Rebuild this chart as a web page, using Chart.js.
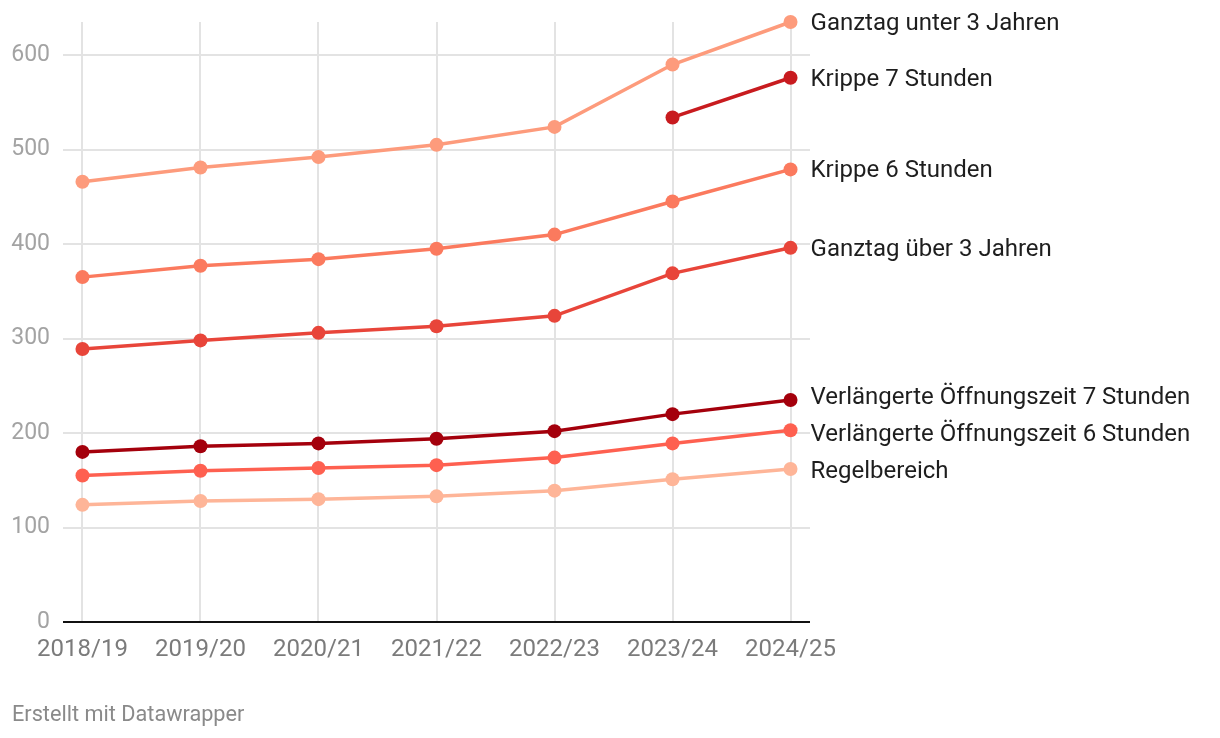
<!DOCTYPE html>
<html lang="de">
<head>
<meta charset="utf-8">
<title>Kita-Beiträge</title>
<script src="https://cdn.jsdelivr.net/npm/chart.js@4/dist/chart.umd.min.js"></script>
<style>
  html, body { margin: 0; padding: 0; background: #fff; }
  #wrap { position: relative; width: 1220px; height: 738px; }
  #credit {
    position: absolute; left: 12px; top: 701px;
    font: 21.7px Roboto, sans-serif; color: #8a8a8a;
  }
</style>
</head>
<body>
<div id="wrap">
  <canvas id="chart" width="1220" height="738"></canvas>
  <div id="credit">Erstellt mit Datawrapper</div>
</div>
<script>
// Data
const years = ['2018/19', '2019/20', '2020/21', '2021/22', '2022/23', '2023/24', '2024/25'];
const ganztagUnter3 = [466, 481, 492, 505, 524, 590, 635];
const krippe7 = [null, null, null, null, null, 534, 576];
const krippe6 = [365, 377, 384, 395, 410, 445, 479];
const ganztagUeber3 = [289, 298, 306, 313, 324, 369, 396];
const verlaengert7 = [180, 186, 189, 194, 202, 220, 235];
const verlaengert6 = [155, 160, 163, 166, 174, 189, 203];
const regelbereich = [124, 128, 130, 133, 139, 151, 162];
const yTicks = [0, 100, 200, 300, 400, 500, 600];

const series = [
    { label: 'Ganztag unter 3 Jahren', values: ganztagUnter3, color: '#fd9b7c' },
    { label: 'Krippe 7 Stunden', values: krippe7, color: '#c81b1f' },
    { label: 'Krippe 6 Stunden', values: krippe6, color: '#fb7a5e' },
    { label: 'Ganztag über 3 Jahren', values: ganztagUeber3, color: '#e8453a' },
    { label: 'Verlängerte Öffnungszeit 7 Stunden', values: verlaengert7, color: '#a4000c' },
    { label: 'Verlängerte Öffnungszeit 6 Stunden', values: verlaengert6, color: '#fe6050' },
    { label: 'Regelbereich', values: regelbereich, color: '#feb598' }
];

const datasets = series.map(s => ({
    label: s.label,
    data: s.values.map((v, i) => ({ x: i, y: v })),
    borderColor: s.color,
    backgroundColor: s.color,
    borderWidth: 3.5,
    pointRadius: 7,
    pointHoverRadius: 7,
    pointBorderWidth: 0,
    spanGaps: false,
    clip: false
}));

// Line labels at the right end, pushed apart when they get too close
const endLabels = {
    id: 'endLabels',
    afterDatasetsDraw(chart) {
        const ctx = chart.ctx;
        const items = chart.data.datasets.map((ds, i) => {
            const pts = chart.getDatasetMeta(i).data;
            const last = pts[pts.length - 1];
            return { text: ds.label, x: last.x + 20, y: last.y };
        }).sort((a, b) => a.y - b.y);
        const gap = 37;
        for (let k = 0; k < 10; k++) {
            for (let i = 1; i < items.length; i++) {
                const d = items[i].y - items[i - 1].y;
                if (d < gap) {
                    const push = (gap - d) / 2;
                    items[i - 1].y -= push;
                    items[i].y += push;
                }
            }
        }
        ctx.save();
        ctx.font = '24px Roboto, sans-serif';
        ctx.fillStyle = '#1e1e1e';
        ctx.textBaseline = 'middle';
        ctx.textAlign = 'left';
        items.forEach(it => ctx.fillText(it.text, it.x, it.y + 2));
        ctx.restore();
    }
};

new Chart(document.getElementById('chart'), {
    type: 'line',
    data: { datasets },
    options: {
        responsive: false,
        animation: false,
        layout: { padding: { left: 0, right: 410, top: 22, bottom: 66 } },
        plugins: { legend: { display: false }, tooltip: { enabled: false } },
        scales: {
            x: {
                type: 'linear',
                min: -0.165,
                max: 6.165,
                afterBuildTicks: scale => { scale.ticks = years.map((y, i) => ({ value: i })); },
                afterFit: scale => { scale.height = 50; },
                border: { display: false },
                grid: { color: '#e3e3e3', lineWidth: 2, drawTicks: false },
                ticks: {
                    callback: v => years[v],
                    color: '#7b7b7b',
                    font: { family: 'Roboto', size: 24 },
                    padding: 14,
                    maxRotation: 0,
                    autoSkip: false
                }
            },
            y: {
                min: 0,
                max: 635,
                afterBuildTicks: scale => { scale.ticks = yTicks.map(v => ({ value: v })); },
                afterFit: scale => { scale.width = 63; scale.paddingTop = 0; scale.paddingBottom = 0; },
                border: { display: false },
                grid: {
                    color: c => c.tick && c.tick.value === 0 ? '#111' : '#e3e3e3',
                    lineWidth: 2,
                    drawTicks: false
                },
                ticks: {
                    color: '#a3a3a3',
                    font: { family: 'Roboto', size: 23 },
                    padding: 13
                }
            }
        }
    },
    plugins: [endLabels]
});
</script>
</body>
</html>
